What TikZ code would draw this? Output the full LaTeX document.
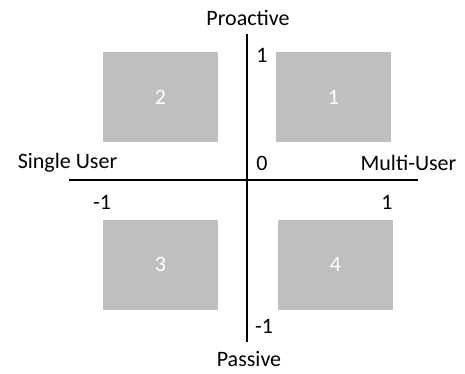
\documentclass[tikz,border=0pt]{standalone}
\usepackage{fontspec}
\setmainfont{Carlito}
\usepackage{xcolor}
\usepackage{tikz}
\usetikzlibrary{positioning}
\definecolor{quadgray}{HTML}{BFBFBF}

\begin{document}
\begin{tikzpicture}[
x=1pt, y=1pt,
font=\fontsize{22}{26}\selectfont,
quad/.style={fill=quadgray, text=white, minimum width=115pt, minimum height=90pt, inner sep=0pt},
axis/.style={line width=2.2pt},
lbl/.style={inner sep=0pt}
]
\useasboundingbox (0,0) rectangle (465,373);

% Axes
\coordinate (top) at (247,339);
\coordinate (bot) at (247,31);
\coordinate (lft) at (69,193);
\coordinate (rgt) at (418,193);
\draw[axis] (top) -- (bot);
\draw[axis] (lft) -- (rgt);

% Quadrants
\node[quad] (q2) at (160.5,276) {2};
\node[quad] (q1) at (333.5,276) {1};
\node[quad] (q3) at (160.5,108.5) {3};
\node[quad] (q4) at (335.5,108.5) {4};

% Axis labels
\node[lbl] (pro) at (248,355) {Proactive};
\node[lbl] (pas) at (249,13.5) {Passive};
\node[lbl] (single) at (67.5,210) {Single User};
\node[lbl] (multi) at (408.5,210) {Multi-User};

% Ticks
\node[lbl] (ytop) at (262,318) {1};
\node[lbl] (zero) at (262,210) {0};
\node[lbl] (xmin) at (102,171) {-1};
\node[lbl] (xmax) at (387,171) {1};
\node[lbl] (ybot) at (264,47) {-1};

\end{tikzpicture}
\end{document}
